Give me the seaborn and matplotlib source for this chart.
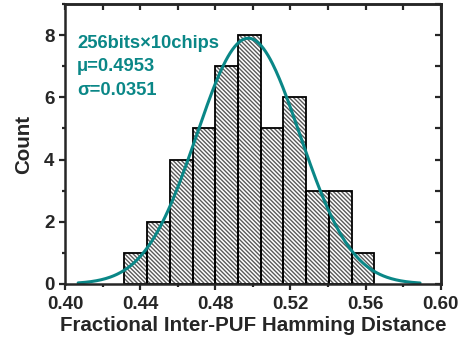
import numpy as np
import pandas as pd
import matplotlib
matplotlib.use("Agg")
import matplotlib.pyplot as plt
import seaborn as sns
from matplotlib.ticker import MultipleLocator

# ---- data ----
bin_start = 0.4316
bin_width = 0.0121
counts = [1, 2, 4, 5, 7, 8, 5, 6, 3, 3, 1]
fit_mu = 0.4976      # centre of drawn fit curve
fit_sigma = 0.0275   # width of drawn fit curve
curve_range = (0.407, 0.589)
annot_lines = ["256bits\u00d710chips", "\u03bc=0.4953", "\u03c3=0.0351"]
xticks = [0.40, 0.44, 0.48, 0.52, 0.56, 0.60]
yticks = [0, 2, 4, 6, 8]

teal = "#0a8787"

sns.set_style("ticks")
plt.rcParams["font.family"] = ["Liberation Sans", "DejaVu Sans"]
plt.rcParams["font.weight"] = "bold"
plt.rcParams["hatch.linewidth"] = 1.0
plt.rcParams["hatch.color"] = "#5a5a5a"

edges = [bin_start + bin_width * i for i in range(len(counts) + 1)]
centers = [(edges[i] + edges[i + 1]) / 2 for i in range(len(counts))]
df = pd.DataFrame({"x": centers, "w": counts})

fig = plt.figure(figsize=(4.68, 3.41), dpi=100)
ax = fig.add_axes([0.1389, 0.1672, 0.8028, 0.8211])

# hatched fill layer
sns.histplot(data=df, x="x", weights="w", bins=edges, ax=ax,
             color="white", edgecolor="#5a5a5a", linewidth=0, alpha=1,
             hatch="\\\\\\\\\\\\\\\\")
# outline layer
sns.histplot(data=df, x="x", weights="w", bins=edges, ax=ax,
             fill=False, color="black", linewidth=1.3)

# fitted normal curve scaled to histogram
xs = np.linspace(curve_range[0], curve_range[1], 300)
total = sum(counts)
ys = total * bin_width / (fit_sigma * np.sqrt(2 * np.pi)) * np.exp(-0.5 * ((xs - fit_mu) / fit_sigma) ** 2)
sns.lineplot(x=xs, y=ys, ax=ax, color=teal, linewidth=2.2)

ax.set_xlim(0.40, 0.60)
ax.set_ylim(0, 9)
ax.set_xticks(xticks)
ax.set_xticklabels([f"{t:.2f}" for t in xticks])
ax.set_yticks(yticks)
ax.xaxis.set_minor_locator(MultipleLocator(0.02))
ax.yaxis.set_minor_locator(MultipleLocator(1))
ax.tick_params(axis="both", which="major", direction="out", length=4.5, width=1.6,
               labelsize=13.5, pad=3)
ax.tick_params(axis="x", which="major", pad=4.5)
ax.tick_params(axis="both", which="minor", direction="out", length=2.5, width=1.6)
for lab in ax.get_xticklabels() + ax.get_yticklabels():
    lab.set_fontweight("bold")

for s in ax.spines.values():
    s.set_linewidth(1.8)
    s.set_visible(True)

# mirrored inward ticks on top and right
top = ax.secondary_xaxis("top")
top.set_xticks(list(np.arange(0.40, 0.6001, 0.02)))
top.tick_params(direction="in", length=4.5, width=1.6, labeltop=False)
top.spines["top"].set_linewidth(1.8)
right = ax.secondary_yaxis("right")
right.set_yticks(list(range(0, 10)))
right.tick_params(direction="in", length=4.5, width=1.6, labelright=False)
right.spines["right"].set_linewidth(1.8)

ax.set_xlabel("Fractional Inter-PUF Hamming Distance", fontsize=14.8, fontweight="bold", labelpad=1.5)
ax.set_ylabel("Count", fontsize=14.8, fontweight="bold", labelpad=8)

for i, line in enumerate(annot_lines):
    ax.text(0.032, 0.858 - i * 0.083, line, transform=ax.transAxes, color=teal,
            fontsize=13.2, fontweight="bold", va="center", ha="left")

fig.savefig("out.png", dpi=100)
